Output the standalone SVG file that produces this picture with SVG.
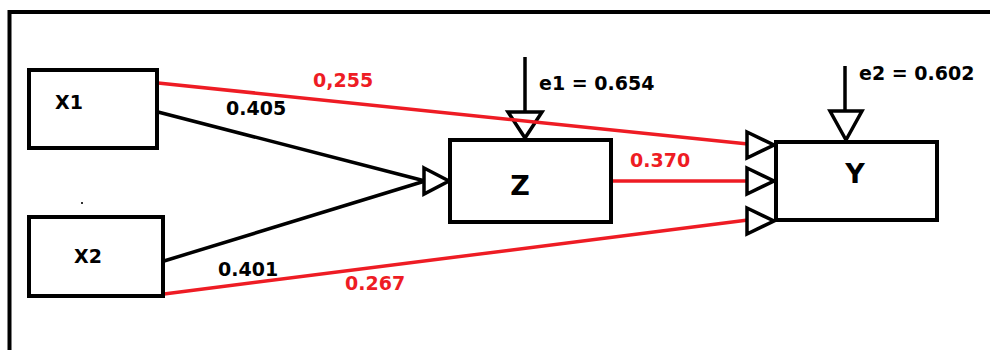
<svg xmlns="http://www.w3.org/2000/svg" width="990" height="350" viewBox="0 0 990 350">
<style>
.box{fill:#fff;stroke:#000;stroke-width:4}
.lk{stroke:#000;stroke-width:3.5;fill:none}
.lr{stroke:#ee1c24;stroke-width:3.5;fill:none}
.head{fill:#fff;stroke:#000;stroke-width:3.5;stroke-linejoin:miter}
.t{font-family:"DejaVu Sans",sans-serif;font-weight:bold;font-size:19px;fill:#000}
.tr{font-family:"DejaVu Sans",sans-serif;font-weight:bold;font-size:19px;fill:#ee1c24}
.big{font-family:"DejaVu Sans",sans-serif;font-weight:bold;font-size:27px;fill:#000;text-anchor:middle}
</style>
<rect width="990" height="350" fill="#fff"/>
<path d="M9.5 352 V12 H992" fill="none" stroke="#000" stroke-width="4"/>
<rect x="81" y="202" width="2" height="2" fill="#333"/>
<g id="connectors">
<line class="lk" x1="525" y1="57" x2="525" y2="112"/>
<line class="lk" x1="845" y1="66" x2="845" y2="111"/>
<polygon class="head" points="508,112 542,112 525,138"/>
<polygon class="head" points="830,111 862,111 846,140"/>
<line class="lr" x1="158" y1="83" x2="748" y2="144"/>
<line class="lk" x1="158" y1="112" x2="425" y2="181"/>
<line class="lk" x1="164" y1="261" x2="425" y2="181"/>
<line class="lr" x1="164" y1="294" x2="748" y2="220"/>
<line class="lr" x1="612" y1="181" x2="748" y2="181"/>
<polygon class="head" points="424,168 449,181 424,194"/>
<polygon class="head" points="747,132 774,145 747,158"/>
<polygon class="head" points="747,168 774,181 747,194"/>
<polygon class="head" points="747,208 774,221 747,234"/>
<text class="tr" x="313" y="87">0,255</text>
<text class="t" x="226" y="115">0.405</text>
<text class="t" x="218" y="276">0.401</text>
<text class="tr" x="345" y="290">0.267</text>
<text class="tr" x="630" y="167">0.370</text>
<text class="t" x="539" y="90">e1 = 0.654</text>
<text class="t" x="859" y="80">e2 = 0.602</text>
</g>
<g id="X1">
<rect class="box" x="29" y="70" width="128" height="78"/>
<text class="t" x="55" y="109">X1</text>
</g>
<g id="X2">
<rect class="box" x="29" y="217" width="134" height="79"/>
<text class="t" x="74" y="263">X2</text>
</g>
<g id="Z">
<rect class="box" x="450" y="140" width="161" height="82"/>
<text class="big" x="520" y="195">Z</text>
</g>
<g id="Y">
<rect class="box" x="776" y="142" width="161" height="78"/>
<text class="big" x="855" y="183">Y</text>
</g>
</svg>
